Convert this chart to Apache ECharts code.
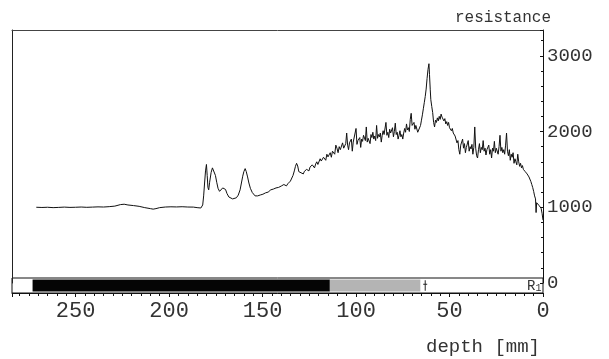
<!DOCTYPE html>
<html>
<head>
<meta charset="utf-8">
<script src="https://cdn.jsdelivr.net/npm/echarts@6/dist/echarts.min.js"></script>
<style>html,body{margin:0;padding:0;background:#fff}#c{width:609px;height:359px}</style>
</head>
<body>
<div id="c"></div>
<script>
// depth [mm] and resistance values
const depth = [
  271,268,265,262,259,256,253,250,247,244,241,238,235,232,229,226,224,222,219,216,213,210,208.5,207,205,202,199,196,193,190,187,185,184,183,182,181.5,181,180.5,180,179.6,179.2,178.8,178.3,177.5,176.8,176,175.2,174.5,173.8,173,172.2,171.3,170.5,169.8,169,168,167,166,165,164,163,162,161.3,160.6,160,159.3,158.7,158,157.3,156.5,
  155.5,154.8,154,153.3,152.6,151.9,151.2,150.5,149.8,149.1,148.4,147.7,147,146.3,145.6,144.9,144.2,143.5,142.8,142.1,141.4,140.7,140,139.3,138.6,137.9,137.2,136.5,135.8,135.1,134.4,133.7,133,132.4,131.8,131.2,130.6,130,129.4,128.8,128.2,127.6,127,126.4,125.8,125.2,124.6,124,123.4,122.8,122.2,121.6,121,120.4,119.8,119.2,118.6,118,117.4,116.8,116.2,115.6,115,114.4,113.8,113.2,112.6,112,111.4,110.8,110.2,109.6,109,108.4,107.8,107.2,106.6,
  106,105.5,105,104.5,104,103.5,103,102.5,102,101.5,101,100.5,100,99.5,99,98.5,98,97.5,97,96.5,96,95.5,95,94.5,94,93.5,93,92.5,92,91.5,91,90.5,90,89.5,89,88.5,88,87.5,87,86.5,86,85.5,85,84.5,84,83.5,83,82.5,82,81.5,81,80.5,80,79.5,79,78.5,78,77.5,77,76.5,76,75.5,75,74.5,74,73.5,73,72.5,72,71.5,71,70.5,70,69.5,69,68.5,68,67.5,67,66.5,66,65.5,65,
  64.5,64,63.5,63,62.5,62,61.5,61,60.7,60.3,60,59.5,59,58.5,58,57.5,57,56.5,56,55.5,55,54.5,54,53.5,53,52.5,52,51.5,51,50.5,50,49.5,49,48.5,48,47.5,47,46.5,46,45.5,
  45,44.5,44,43.5,43,42.5,42,41.5,41,40.5,40,39.5,39,38.5,38,37.5,37,36.5,36,35.5,35,34.5,34,33.5,33,32.5,32,31.5,31,30.5,30,29.5,29,28.5,28,27.5,27,26.5,26,25.5,25,24.5,24,23.5,23,22.5,22,21.5,21,20.5,20,19.5,19,18.5,18,17.5,17,16.5,16,15.5,15,14.5,14,13.5,13,12.5,12,11.5,11,10.5,10,9.5,9,8.5,8,7.5,7,6.5,6,5.5,5,4.5,4,
  3.7,3.4,3,2.5,2,1.5,1,0.5,0
];
const resistance = [
  1000,997,1000,995,998,1002,998,1000,1003,999,1002,1005,1003,1008,1015,1035,1040,1030,1022,1012,995,982,975,982,995,1003,1006,1004,1007,1003,1002,995,985,990,1030,1150,1320,1480,1565,1420,1260,1230,1330,1460,1520,1500,1420,1330,1250,1210,1225,1255,1265,1235,1180,1135,1118,1110,1112,1125,1160,1230,1320,1410,1470,1510,1470,1400,1320,1250,
  1195,1170,1150,1158,1150,1168,1162,1180,1172,1195,1190,1215,1200,1205,1230,1222,1240,1215,1255,1248,1262,1240,1280,1265,1300,1285,1282,1310,1300,1345,1365,1420,1480,1540,1580,1545,1470,1490,1455,1470,1440,1475,1465,1500,1490,1480,1530,1510,1560,1545,1520,1570,1600,1565,1580,1640,1610,1625,1660,1650,1620,1700,1665,1690,1720,1660,1740,1760,1700,1820,1780,1720,1800,1760,1740,1850,1780,
  1790,1840,1980,1820,1760,1850,1830,1900,1740,1860,1880,1850,2040,1830,1880,1860,1920,1790,1900,1870,1950,1930,1880,2060,1860,1910,1890,1840,1960,1920,1990,1900,1940,1880,2080,1910,1960,1930,1980,1860,1950,2010,1960,1940,2120,1950,1990,1920,2030,1980,1960,2050,1930,2000,2110,1960,1990,1900,1950,2010,1930,1960,1900,1980,2040,1990,2100,2020,2050,2000,2160,2240,2080,2060,2120,2030,2080,2060,1990,2020,2010,2080,2150,
  2220,2300,2380,2460,2560,2700,2820,2895,2750,2550,2420,2330,2250,2120,2060,2150,2120,2180,2140,2200,2160,2230,2190,2210,2140,2170,2100,2130,2080,2120,2050,2070,2010,2040,1980,1990,1940,1960,1850,1880,
  1760,1700,1820,1800,1900,1780,1840,1720,1790,1810,1880,1740,1800,1770,1830,1700,1790,2060,1780,1680,1650,1760,1840,1720,1790,1760,1880,1740,1780,1690,1760,1740,1820,1700,1760,1650,1780,1740,1870,1720,1780,1760,1700,1800,1950,1740,1790,1720,1760,1700,1820,1980,1740,1680,1760,1620,1700,1660,1720,1580,1640,1600,1560,1700,1600,1540,1580,1520,1550,1500,1510,1470,1480,1440,1420,1400,1380,1340,1300,1260,1210,1150,1110,
  930,1060,1080,1060,1020,1000,985,920,830
];
// core strip segments: [from depth, to depth]
const stripBlack = [273, 114];
const stripGray = [114, 65.6];
const markerDepth = 63;
const xTicks = [0, 50, 100, 150, 200, 250];
const yTicks = [0, 1000, 2000, 3000];

const FONT = '"Liberation Mono", "DejaVu Sans Mono", monospace';
const chart = echarts.init(document.getElementById('c'), null, {renderer: 'canvas'});
const n = Math.min(depth.length, resistance.length);
const pts = [];
for (let i = 0; i < n; i++) pts.push([depth[i], resistance[i]]);

chart.setOption({
  animation: false,
  backgroundColor: '#fff',
  grid: [
    {left: 12, right: 66, top: 30, bottom: 76},
    {left: 12, right: 66, top: 278, bottom: 66, show: true, borderColor: '#111', borderWidth: 1, backgroundColor: 'transparent'}
  ],
  xAxis: [
    {gridIndex: 0, type: 'value', inverse: true, min: 0, max: 284, position: 'top',
     axisLine: {show: true, onZero: false, lineStyle: {color: '#444', width: 1}},
     axisTick: {show: false}, axisLabel: {show: false}, splitLine: {show: false}},
    {gridIndex: 1, type: 'value', inverse: true, min: 0, max: 284, interval: 50, position: 'bottom',
     axisLine: {show: true, onZero: false, lineStyle: {color: '#111', width: 1}},
     axisTick: {show: true, inside: false, length: 4, lineStyle: {color: '#111'}},
     minorTick: {show: true, splitNumber: 10, length: 3, lineStyle: {color: '#111'}},
     axisLabel: {show: true, margin: 7, fontFamily: FONT, fontSize: 22, color: '#333',
       customValues: xTicks, formatter: v => String(v)},
     splitLine: {show: false}}
  ],
  yAxis: [
    {gridIndex: 0, type: 'value', position: 'right', min: 0, max: 3340, interval: 1000,
     axisLine: {show: true, onZero: false, lineStyle: {color: '#111', width: 1}},
     axisTick: {show: true, inside: true, length: 3, lineStyle: {color: '#111'}},
     minorTick: {show: true, splitNumber: 5, length: 2, lineStyle: {color: '#111'}},
     axisLabel: {show: true, margin: 4, fontFamily: FONT, fontSize: 19, color: '#333',
       customValues: yTicks, formatter: v => String(v)},
     splitLine: {show: false}},
    {gridIndex: 0, type: 'value', position: 'left', min: 0, max: 3340,
     axisLine: {show: true, onZero: false, lineStyle: {color: '#222', width: 1}},
     axisTick: {show: false}, axisLabel: {show: false}, splitLine: {show: false}},
    {gridIndex: 1, type: 'value', min: 0, max: 1, show: false}
  ],
  series: [
    {type: 'line', xAxisIndex: 0, yAxisIndex: 0, data: pts, showSymbol: false,
     lineStyle: {color: '#111', width: 1}, silent: true},
    {type: 'custom', xAxisIndex: 1, yAxisIndex: 2, silent: true,
     data: [[stripBlack[0], stripBlack[1], 0], [stripGray[0], stripGray[1], 1]],
     renderItem: function (params, api) {
       const a = api.coord([api.value(0), 0.9]);
       const b = api.coord([api.value(1), 0.1]);
       return {type: 'rect', shape: {x: a[0], y: a[1], width: b[0] - a[0], height: b[1] - a[1]},
         style: {fill: api.value(2) === 0 ? '#050505' : '#b4b4b4'}};
     }},
    {type: 'custom', xAxisIndex: 1, yAxisIndex: 2, silent: true,
     data: [[markerDepth]],
     renderItem: function (params, api) {
       const t = api.coord([api.value(0), 0.85]);
       const b = api.coord([api.value(0), 0.15]);
       return {type: 'group', children: [
         {type: 'line', shape: {x1: t[0], y1: t[1], x2: b[0], y2: b[1]}, style: {stroke: '#222', lineWidth: 1}},
         {type: 'line', shape: {x1: t[0] - 2, y1: t[1] + 4, x2: t[0] + 2, y2: t[1] + 4}, style: {stroke: '#222', lineWidth: 1}}
       ]};
     }}
  ],
  graphic: [
    {type: 'text', right: 58, top: 10, style: {text: 'resistance', font: '16px ' + FONT, fill: '#333'}},
    {type: 'text', left: 426, top: 337, style: {text: 'depth [mm]', font: '19px ' + FONT, fill: '#333'}},
    {type: 'text', left: 527, top: 279, style: {
      text: '{a|R}{b|1}',
      rich: {a: {fontFamily: FONT, fontSize: 14, fill: '#333', color: '#333'},
             b: {fontFamily: FONT, fontSize: 10, fill: '#333', color: '#333', verticalAlign: 'bottom', padding: [4, 0, 0, 0]}}}}
  ]
});
</script>
</body>
</html>
